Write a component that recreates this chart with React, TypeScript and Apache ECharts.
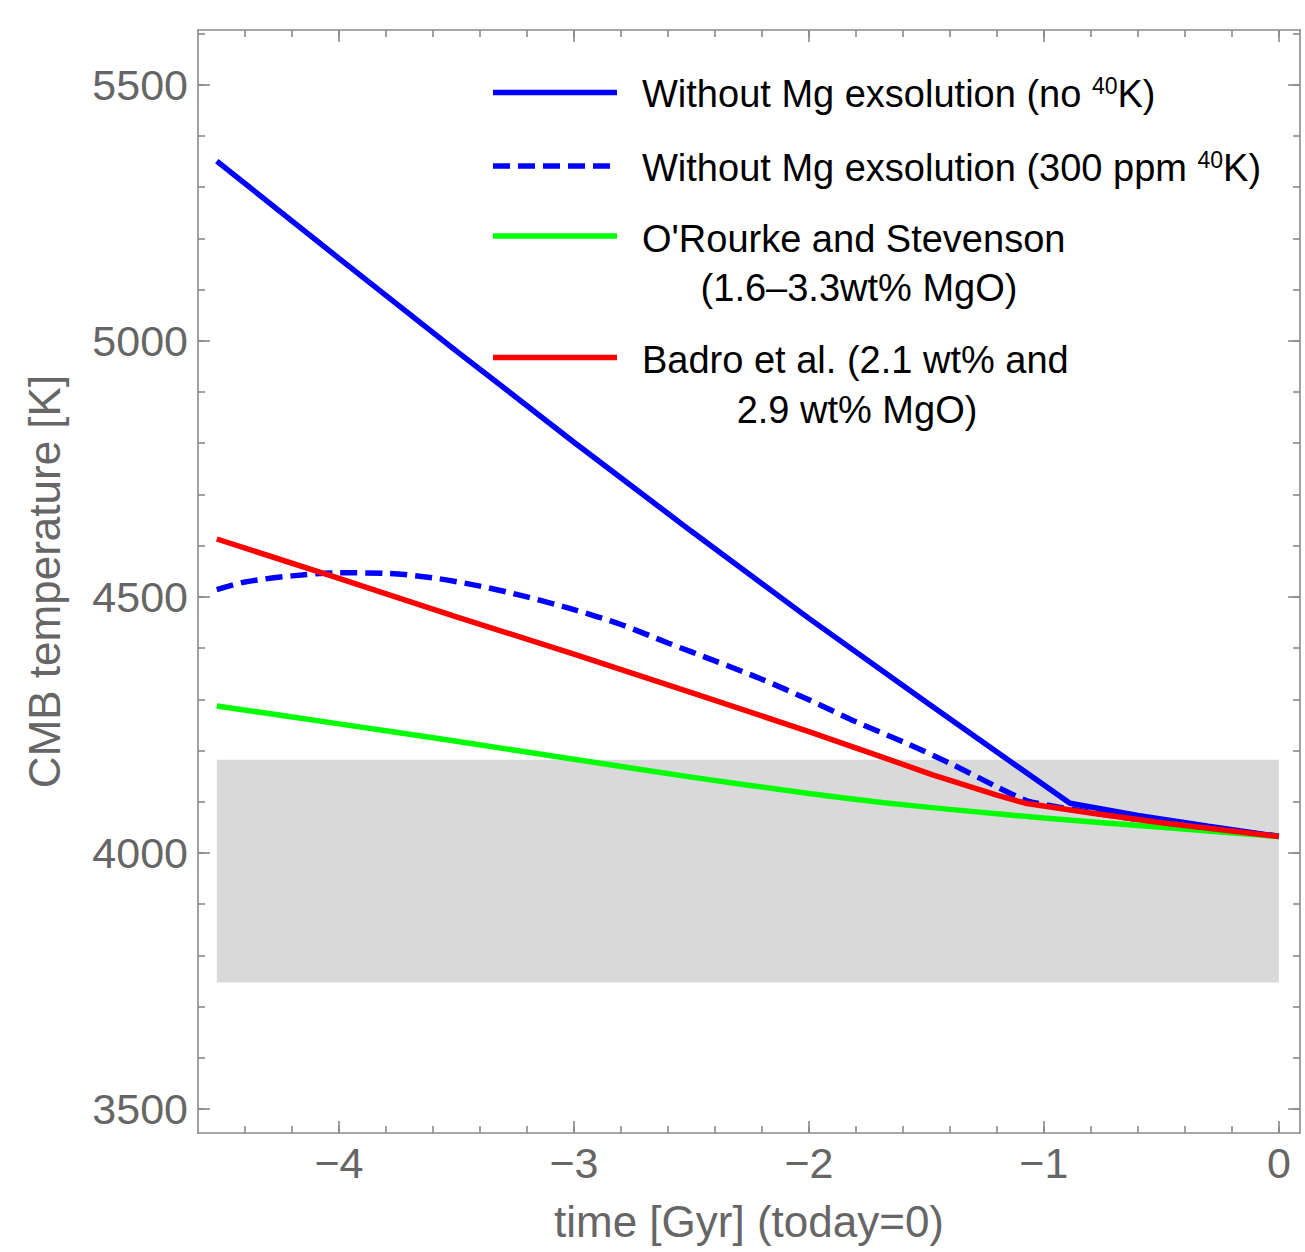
import React, { useEffect, useRef } from "react";
import * as echarts from "echarts";

// ---- axis ranges & ticks ----
const X_MIN = -4.6;
const X_MAX = 0.09;
const Y_MIN = 3453;
const Y_MAX = 5607;
const xMajorTicks = [-4, -3, -2, -1, 0];
const xMinorTicks = [-4.4, -4.2, -4.0, -3.8, -3.6, -3.4, -3.2, -3.0, -2.8, -2.6, -2.4, -2.2, -2.0, -1.8, -1.6, -1.4, -1.2, -1.0, -0.8, -0.6, -0.4, -0.2, 0];
const yMajorTicks = [3500, 4000, 4500, 5000, 5500];
const yMinorTicks = [3500, 3600, 3700, 3800, 3900, 4000, 4100, 4200, 4300, 4400, 4500, 4600, 4700, 4800, 4900, 5000, 5100, 5200, 5300, 5400, 5500, 5600];

// ---- series data ----
const timeNoK = [-4.52, -4.0, -3.5, -3.0, -2.5, -2.0, -1.5, -1.2, -0.889, -0.6, -0.3, 0];
const tempNoK = [5351, 5161, 4980, 4802, 4628, 4458, 4294, 4197, 4097, 4073, 4052, 4032];

const timeK300 = [-4.52, -4.4, -4.2, -4.0, -3.8, -3.6, -3.4, -3.2, -3.0, -2.8, -2.6, -2.4, -2.2, -2.0, -1.8, -1.6, -1.4, -1.2, -1.1, -1.05, -0.8, -0.5, 0];
const tempK300 = [4514, 4529, 4541, 4547, 4546, 4537, 4521, 4500, 4475, 4446, 4410, 4375, 4339, 4299, 4256, 4217, 4175, 4129, 4107, 4099, 4079, 4059, 4033];

const timeOR = [-4.52, -4.0, -3.5, -3.0, -2.5, -2.0, -1.68, -1.4, -1.0, -0.5, 0];
const tempOR = [4287, 4252, 4218, 4183, 4148, 4116, 4098, 4085, 4068, 4050, 4032];

const timeBadro = [-4.52, -4.0, -3.5, -3.0, -2.5, -2.0, -1.7, -1.47, -1.2, -1.08, -0.8, -0.5, 0];
const tempBadro = [4613, 4536, 4461, 4388, 4313, 4237, 4189, 4152, 4113, 4097, 4078, 4059, 4032];

// shaded band
const bandTime = [-4.52, 0];
const bandTemp = [3747, 4182];

const zip = (a: number[], b: number[]) => a.map((v, i) => [v, b[i]]);

const FONT = "'Liberation Sans', Arial, Helvetica, sans-serif";
const FRAME = "#8a8a8a";
const LABEL = "#666666";
const LW = 5.5;

export default function App() {
  const ref = useRef<HTMLDivElement>(null);
  useEffect(() => {
    if (!ref.current) return;
    const chart = echarts.init(ref.current, null, { renderer: "svg" });
    const fmtX = (v: number) => String(v).replace("-", "\u2212");
    const fmtY = (v: number) => String(v);
    const xBase: any = { type: "value", min: X_MIN, max: X_MAX, splitLine: { show: false } };
    const yBase: any = { type: "value", min: Y_MIN, max: Y_MAX, splitLine: { show: false } };
    const lineStyle = { color: FRAME, width: 1.6 };
    const axisLine = { show: true, onZero: false, lineStyle };
    const noLine = { show: false, onZero: false };
    const majTick = (vals: number[]) => ({ show: true, inside: true, length: 12, customValues: vals, lineStyle });
    const minTick = (vals: number[]) => ({ show: true, inside: true, length: 7, customValues: vals, lineStyle });

    const option: any = {
      animation: false,
      backgroundColor: "#ffffff",
      grid: { left: 198, right: 5, top: 30, bottom: 119, containLabel: false },
      xAxis: [
        {
          ...xBase,
          position: "bottom",
          axisLine,
          axisTick: majTick(xMajorTicks),
          axisLabel: { show: true, customValues: xMajorTicks, formatter: fmtX, margin: 8, fontSize: 43, color: LABEL, fontFamily: FONT },
          name: "time [Gyr] (today=0)",
          nameLocation: "middle",
          nameGap: 66,
          nameTextStyle: { fontSize: 44, color: LABEL, fontFamily: FONT },
        },
        { ...xBase, position: "bottom", axisLine: noLine, axisTick: minTick(xMinorTicks), axisLabel: { show: false } },
        { ...xBase, position: "top", axisLine, axisTick: majTick(xMajorTicks), axisLabel: { show: false } },
        { ...xBase, position: "top", axisLine: noLine, axisTick: minTick(xMinorTicks), axisLabel: { show: false } },
      ],
      yAxis: [
        {
          ...yBase,
          position: "left",
          axisLine,
          axisTick: majTick(yMajorTicks),
          axisLabel: { show: true, customValues: yMajorTicks, formatter: fmtY, margin: 10, fontSize: 43, color: LABEL, fontFamily: FONT },
          name: "CMB temperature [K]",
          nameLocation: "middle",
          nameRotate: 90,
          nameGap: 132,
          nameTextStyle: { fontSize: 44, color: LABEL, fontFamily: FONT },
        },
        { ...yBase, position: "left", axisLine: noLine, axisTick: minTick(yMinorTicks), axisLabel: { show: false } },
        { ...yBase, position: "right", axisLine, axisTick: majTick(yMajorTicks), axisLabel: { show: false } },
        { ...yBase, position: "right", axisLine: noLine, axisTick: minTick(yMinorTicks), axisLabel: { show: false } },
      ],
      series: [
        {
          type: "line",
          name: "band",
          data: [[bandTime[0], bandTemp[0]]],
          showSymbol: false,
          lineStyle: { opacity: 0 },
          silent: true,
          markArea: {
            silent: true,
            itemStyle: { color: "#d9d9d9", opacity: 1 },
            data: [[{ coord: [bandTime[0], bandTemp[1]] }, { coord: [bandTime[1], bandTemp[0]] }]],
          },
        },
        {
          type: "line",
          name: "Without Mg exsolution (no 40K)",
          data: zip(timeNoK, tempNoK),
          showSymbol: false,
          lineStyle: { color: "#0000ff", width: LW },
        },
        {
          type: "line",
          name: "Without Mg exsolution (300 ppm 40K)",
          data: zip(timeK300, tempK300),
          showSymbol: false,
          smooth: 0.3,
          lineStyle: { color: "#0000ff", width: LW, type: [17, 8] },
        },
        {
          type: "line",
          name: "O'Rourke and Stevenson",
          data: zip(timeOR, tempOR),
          showSymbol: false,
          smooth: 0.2,
          lineStyle: { color: "#00ff00", width: LW },
        },
        {
          type: "line",
          name: "Badro et al.",
          data: zip(timeBadro, tempBadro),
          showSymbol: false,
          lineStyle: { color: "#ff0000", width: LW },
        },
      ],
      graphic: [
        { type: "line", shape: { x1: 493, y1: 92.5, x2: 617, y2: 92.5 }, style: { stroke: "#0000ff", lineWidth: LW } },
        { type: "line", shape: { x1: 493, y1: 166, x2: 617, y2: 166 }, style: { stroke: "#0000ff", lineWidth: LW, lineDash: [17, 8] } },
        { type: "line", shape: { x1: 493, y1: 236, x2: 617, y2: 236 }, style: { stroke: "#00ff00", lineWidth: LW } },
        { type: "line", shape: { x1: 493, y1: 357.5, x2: 617, y2: 357.5 }, style: { stroke: "#ff0000", lineWidth: LW } },
        {
          type: "text", x: 642, y: 94,
          style: {
            text: "{a|Without Mg exsolution (no }{s|40}{a|K)}",
            textAlign: "left", textVerticalAlign: "middle",
            rich: {
              a: { fontSize: 38, lineHeight: 40, fontFamily: FONT, fill: "#000" },
              s: { fontSize: 23, lineHeight: 26, fontFamily: FONT, fill: "#000", verticalAlign: "top" },
            },
          },
        },
        {
          type: "text", x: 642, y: 168,
          style: {
            text: "{a|Without Mg exsolution (300 ppm }{s|40}{a|K)}",
            textAlign: "left", textVerticalAlign: "middle",
            rich: {
              a: { fontSize: 38, lineHeight: 40, fontFamily: FONT, fill: "#000" },
              s: { fontSize: 23, lineHeight: 26, fontFamily: FONT, fill: "#000", verticalAlign: "top" },
            },
          },
        },
        { type: "text", x: 642, y: 239, style: { text: "O'Rourke and Stevenson", font: `38px ${FONT}`, fill: "#000", textAlign: "left", textVerticalAlign: "middle" } },
        { type: "text", x: 859, y: 288, style: { text: "(1.6\u20133.3wt% MgO)", font: `38px ${FONT}`, fill: "#000", textAlign: "center", textVerticalAlign: "middle" } },
        { type: "text", x: 642, y: 360, style: { text: "Badro et al. (2.1 wt% and", font: `38px ${FONT}`, fill: "#000", textAlign: "left", textVerticalAlign: "middle" } },
        { type: "text", x: 857, y: 410, style: { text: "2.9 wt% MgO)", font: `38px ${FONT}`, fill: "#000", textAlign: "center", textVerticalAlign: "middle" } },
      ],
    };
    chart.setOption(option);
    return () => chart.dispose();
  }, []);
  return <div ref={ref} style={{ position: "absolute", left: 0, top: 0, width: 1305, height: 1252 }} />;
}
